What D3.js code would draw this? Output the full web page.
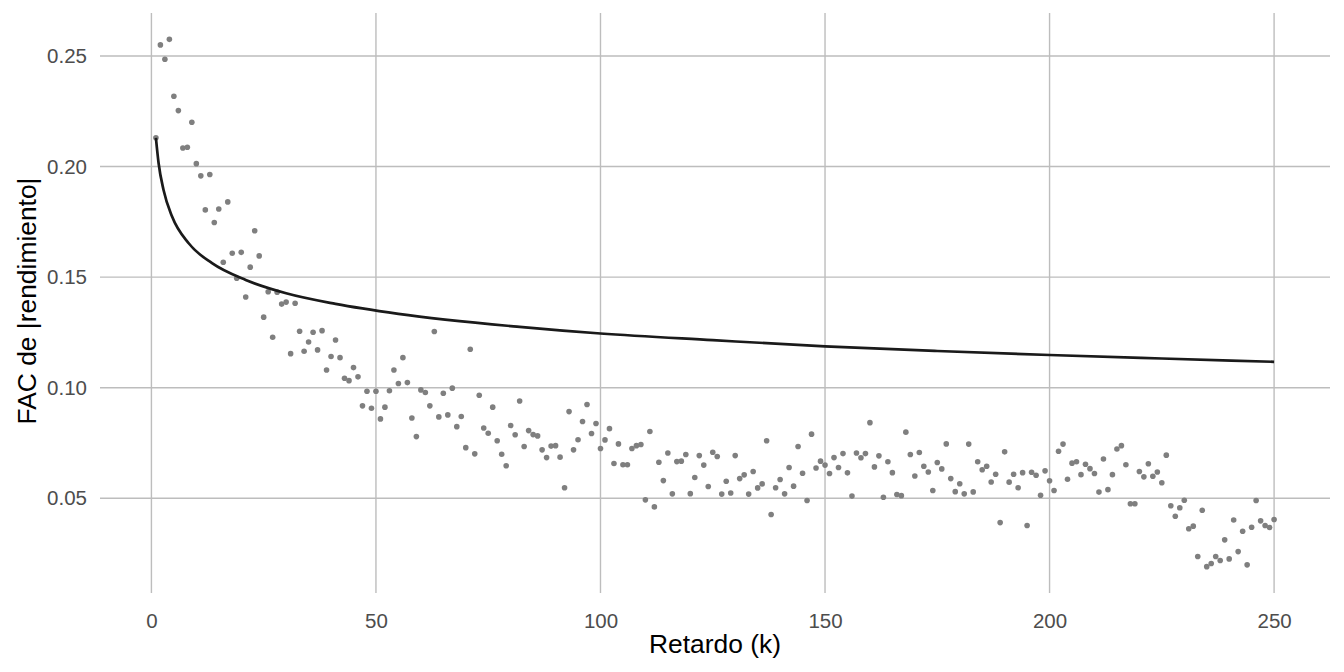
<!DOCTYPE html>
<html>
<head>
<meta charset="utf-8">
<script src="https://cdn.jsdelivr.net/npm/d3@7"></script>
<style>
  body { margin: 0; background: #fff; }
  text { font-family: "Liberation Sans", Arial, Helvetica, sans-serif; }
</style>
</head>
<body>
<script>
// FAC muestral de |rendimiento|, retardos 1..250
const facValues = [
  0.2130, 0.2550, 0.2485, 0.2575, 0.2318, 0.2253, 0.2084, 0.2087, 0.2200, 0.2013,
  0.1958, 0.1804, 0.1964, 0.1747, 0.1808, 0.1567, 0.1840, 0.1608, 0.1495, 0.1612,
  0.1410, 0.1545, 0.1710, 0.1596, 0.1319, 0.1434, 0.1228, 0.1432, 0.1378, 0.1387,
  0.1154, 0.1382, 0.1255, 0.1165, 0.1207, 0.1251, 0.1171, 0.1258, 0.1080, 0.1141,
  0.1216, 0.1136, 0.1043, 0.1032, 0.1091, 0.1049, 0.0918, 0.0984, 0.0907, 0.0984,
  0.0859, 0.0912, 0.0986, 0.1080, 0.1019, 0.1136, 0.1023, 0.0863, 0.0779, 0.0990,
  0.0978, 0.0918, 0.1254, 0.0868, 0.0975, 0.0877, 0.0998, 0.0824, 0.0870, 0.0729,
  0.1174, 0.0701, 0.0966, 0.0818, 0.0794, 0.0912, 0.0760, 0.0699, 0.0647, 0.0829,
  0.0787, 0.0940, 0.0734, 0.0806, 0.0788, 0.0782, 0.0719, 0.0684, 0.0736, 0.0738,
  0.0686, 0.0548, 0.0892, 0.0719, 0.0765, 0.0847, 0.0924, 0.0793, 0.0838, 0.0725,
  0.0764, 0.0815, 0.0657, 0.0746, 0.0652, 0.0652, 0.0725, 0.0738, 0.0743, 0.0493,
  0.0802, 0.0461, 0.0663, 0.0580, 0.0705, 0.0520, 0.0666, 0.0668, 0.0698, 0.0521,
  0.0594, 0.0693, 0.0650, 0.0553, 0.0708, 0.0689, 0.0519, 0.0577, 0.0524, 0.0693,
  0.0589, 0.0606, 0.0519, 0.0621, 0.0547, 0.0565, 0.0760, 0.0427, 0.0548, 0.0585,
  0.0520, 0.0639, 0.0555, 0.0734, 0.0613, 0.0490, 0.0790, 0.0637, 0.0668, 0.0650,
  0.0612, 0.0684, 0.0639, 0.0702, 0.0615, 0.0510, 0.0705, 0.0683, 0.0702, 0.0842,
  0.0642, 0.0692, 0.0505, 0.0665, 0.0616, 0.0517, 0.0512, 0.0799, 0.0698, 0.0601,
  0.0707, 0.0645, 0.0619, 0.0535, 0.0662, 0.0633, 0.0746, 0.0589, 0.0530, 0.0566,
  0.0520, 0.0745, 0.0529, 0.0665, 0.0629, 0.0645, 0.0574, 0.0609, 0.0390, 0.0710,
  0.0573, 0.0609, 0.0548, 0.0616, 0.0377, 0.0618, 0.0604, 0.0514, 0.0624, 0.0579,
  0.0535, 0.0713, 0.0745, 0.0586, 0.0659, 0.0665, 0.0607, 0.0654, 0.0634, 0.0612,
  0.0528, 0.0678, 0.0539, 0.0607, 0.0723, 0.0738, 0.0652, 0.0475, 0.0475, 0.0621,
  0.0597, 0.0656, 0.0600, 0.0619, 0.0570, 0.0695, 0.0466, 0.0419, 0.0457, 0.0491,
  0.0362, 0.0374, 0.0237, 0.0446, 0.0191, 0.0205, 0.0237, 0.0219, 0.0312, 0.0226,
  0.0402, 0.0259, 0.0351, 0.0199, 0.0369, 0.0490, 0.0398, 0.0377, 0.0368, 0.0404
];
const lags = d3.range(1, facValues.length + 1);

// curva ajustada
const fitLags = [1, 1.6, 2.7, 4.6, 8.3, 13.5, 21, 30, 41, 55, 82, 100, 125, 150, 175, 200, 225, 250];
const fitValues = [0.2130, 0.2015, 0.1894, 0.1774, 0.1653, 0.1563, 0.1487, 0.1427, 0.1379,
                   0.1334, 0.1275, 0.1245, 0.1215, 0.1187, 0.1166, 0.1148, 0.1132, 0.1117];

const xTicks = [0, 50, 100, 150, 200, 250];
const yTicks = [0.05, 0.10, 0.15, 0.20, 0.25];

const w = 1344, h = 672;
const padL = 100, padR = 1330, padT = 13, padB = 593;

const svg = d3.select("body").append("svg")
  .attr("width", w)
  .attr("height", h);

// expansion 5% como ggplot
const xExt = d3.extent(lags), yExt = d3.extent(facValues);
const xPad = (xExt[1] - xExt[0]) * 0.05, yPad = (yExt[1] - yExt[0]) * 0.05;

const x = d3.scaleLinear()
  .domain([xExt[0] - xPad, xExt[1] + xPad])
  .range([padL, padR]);
const y = d3.scaleLinear()
  .domain([yExt[0] - yPad, yExt[1] + yPad])
  .range([padB, padT]);

// rejilla
svg.append("g")
  .selectAll("line")
  .data(yTicks)
  .enter().append("line")
  .attr("x1", padL).attr("x2", padR)
  .attr("y1", d => y(d)).attr("y2", d => y(d))
  .attr("stroke", "#bdbdbd").attr("stroke-width", 1.4);

svg.append("g")
  .selectAll("line")
  .data(xTicks)
  .enter().append("line")
  .attr("x1", d => x(d)).attr("x2", d => x(d))
  .attr("y1", padT).attr("y2", padB)
  .attr("stroke", "#bdbdbd").attr("stroke-width", 1.4);

// ejes (solo etiquetas)
const xAxis = svg.append("g")
  .attr("transform", `translate(0,${padB})`)
  .call(d3.axisBottom(x).tickValues(xTicks).tickSize(0).tickPadding(20));
const yAxis = svg.append("g")
  .attr("transform", `translate(${padL},0)`)
  .call(d3.axisLeft(y).tickValues(yTicks).tickFormat(d3.format(".2f")).tickSize(0).tickPadding(13));

[xAxis, yAxis].forEach(a => {
  a.select(".domain").remove();
  a.selectAll("text")
    .attr("fill", "#4d4d4d")
    .style("font-size", "20.5px")
    .style("font-family", '"Liberation Sans", Arial, sans-serif');
});

// puntos
svg.append("g")
  .selectAll("circle")
  .data(facValues)
  .enter().append("circle")
  .attr("cx", (d, i) => x(lags[i]))
  .attr("cy", d => y(d))
  .attr("r", 2.8)
  .attr("fill", "#7f7f7f");

// curva
const line = d3.line()
  .x((d, i) => x(fitLags[i]))
  .y(d => y(d))
  .curve(d3.curveMonotoneX);

svg.append("path")
  .datum(fitValues)
  .attr("d", line)
  .attr("fill", "none")
  .attr("stroke", "#1a1a1a")
  .attr("stroke-width", 2.7);

// titulos
svg.append("text")
  .attr("x", (padL + padR) / 2)
  .attr("y", 653)
  .attr("text-anchor", "middle")
  .style("font-size", "26.4px")
  .attr("fill", "#000")
  .text("Retardo (k)");

svg.append("text")
  .attr("transform", "translate(36,301) rotate(-90)")
  .attr("text-anchor", "middle")
  .style("font-size", "26.4px")
  .attr("fill", "#000")
  .text("FAC de |rendimiento|");
</script>
</body>
</html>
